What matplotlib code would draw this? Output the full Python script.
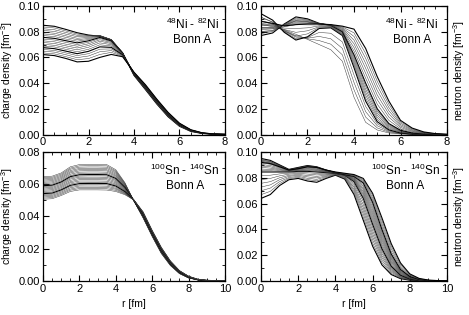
import numpy as np
import matplotlib
matplotlib.use('Agg')
import matplotlib.pyplot as plt
from matplotlib.ticker import MultipleLocator, FormatStrFormatter

plt.rcParams['font.family'] = 'Liberation Sans'
plt.rcParams['font.size'] = 8
plt.rcParams['mathtext.fontset'] = 'custom'
plt.rcParams['mathtext.rm'] = 'Liberation Sans'
plt.rcParams['mathtext.it'] = 'Liberation Sans'

# densities, units 1e-3 fm^-3
# rows = r grid point, columns = isotope
ni_mass = [48, 50, 52, 54, 56, 58, 60, 62, 64, 66, 68, 70, 72, 74, 76, 78, 80, 82]
sn_mass = [100, 102, 104, 106, 108, 110, 112, 114, 116, 118, 120,
           122, 124, 126, 128, 130, 132, 134, 136, 138, 140]

r_ni = [0.0, 0.5, 1.0, 1.5, 2.0, 2.5, 3.0, 3.5, 4.0, 4.5, 5.0, 5.5, 6.0, 6.5, 7.0, 7.5, 8.0]
r_sn = [0.0, 0.5, 1.0, 1.5, 2.0, 2.5, 3.0, 3.5, 4.0, 4.5, 5.0, 5.5, 6.0, 6.5, 7.0, 7.5,
        8.0, 8.5, 9.0, 9.5, 10.0]

ni_charge = [
    [85.0, 83.7, 82.3, 81.0, 79.6, 78.3, 77.0, 75.6, 74.3, 72.9, 71.6, 70.2, 68.9, 67.6, 66.2, 64.9, 63.5, 62.2],
    [84.2, 82.9, 81.5, 80.2, 78.8, 77.5, 76.2, 74.8, 73.5, 72.1, 70.8, 69.4, 68.1, 66.8, 65.4, 64.1, 62.7, 61.4],
    [81.8, 80.6, 79.4, 78.1, 76.8, 75.6, 74.3, 73.0, 71.7, 70.3, 69.0, 67.6, 66.3, 64.9, 63.5, 62.1, 60.6, 59.2],
    [79.2, 78.2, 77.2, 76.1, 74.9, 73.8, 72.6, 71.3, 70.0, 68.7, 67.3, 65.9, 64.4, 62.9, 61.4, 59.8, 58.2, 56.5],
    [77.4, 77.1, 76.7, 76.1, 75.5, 74.7, 73.9, 72.9, 71.8, 70.6, 69.3, 67.9, 66.3, 64.7, 62.9, 61.1, 59.1, 57.0],
    [76.4, 76.8, 77.0, 77.0, 76.9, 76.6, 76.1, 75.5, 74.7, 73.7, 72.6, 71.3, 69.8, 68.2, 66.4, 64.4, 62.3, 60.0],
    [73.6, 73.8, 73.9, 73.9, 73.8, 73.6, 73.3, 72.8, 72.3, 71.6, 70.8, 69.9, 68.9, 67.8, 66.6, 65.3, 63.9, 62.3],
    [63.5, 63.5, 63.6, 63.6, 63.5, 63.5, 63.4, 63.2, 63.1, 62.9, 62.7, 62.5, 62.2, 61.9, 61.6, 61.3, 60.9, 60.5],
    [46.0, 46.1, 46.3, 46.4, 46.6, 46.7, 46.9, 47.0, 47.2, 47.3, 47.5, 47.6, 47.8, 47.9, 48.1, 48.2, 48.4, 48.5],
    [35.0, 35.2, 35.4, 35.7, 35.9, 36.1, 36.3, 36.6, 36.8, 37.0, 37.2, 37.5, 37.7, 37.9, 38.1, 38.4, 38.6, 38.8],
    [23.8, 24.0, 24.2, 24.5, 24.7, 24.9, 25.1, 25.4, 25.6, 25.8, 26.0, 26.3, 26.5, 26.7, 26.9, 27.2, 27.4, 27.6],
    [13.8, 14.0, 14.2, 14.4, 14.6, 14.8, 15.0, 15.2, 15.4, 15.6, 15.8, 16.0, 16.2, 16.4, 16.6, 16.8, 17.0, 17.2],
    [6.4, 6.5, 6.7, 6.8, 7.0, 7.1, 7.2, 7.4, 7.5, 7.7, 7.8, 8.0, 8.1, 8.2, 8.4, 8.5, 8.7, 8.8],
    [2.4, 2.5, 2.6, 2.6, 2.7, 2.8, 2.9, 2.9, 3.0, 3.1, 3.2, 3.2, 3.3, 3.4, 3.5, 3.5, 3.6, 3.7],
    [0.8, 0.8, 0.9, 0.9, 0.9, 0.9, 1.0, 1.0, 1.0, 1.1, 1.1, 1.1, 1.2, 1.2, 1.2, 1.2, 1.3, 1.3],
    [0.2, 0.2, 0.2, 0.2, 0.3, 0.3, 0.3, 0.3, 0.3, 0.3, 0.3, 0.3, 0.3, 0.4, 0.4, 0.4, 0.4, 0.4],
    [0.1, 0.1, 0.1, 0.1, 0.1, 0.1, 0.1, 0.1, 0.1, 0.1, 0.1, 0.1, 0.1, 0.1, 0.1, 0.1, 0.1, 0.1],
]

ni_neutron = [
    [83.0, 85.8, 88.5, 91.3, 94.0, 91.2, 88.3, 85.5, 82.7, 79.8, 77.0, 78.6, 80.1, 81.7, 83.3, 84.9, 86.4, 88.0],
    [83.5, 84.9, 86.3, 87.6, 89.0, 87.3, 85.7, 84.0, 82.3, 80.7, 79.0, 80.1, 81.1, 82.2, 83.3, 84.4, 85.4, 86.5],
    [81.5, 81.0, 80.5, 80.0, 79.5, 80.6, 81.7, 82.8, 83.8, 84.9, 86.0, 85.8, 85.6, 85.4, 85.1, 84.9, 84.7, 84.5],
    [78.0, 76.9, 75.8, 74.6, 73.5, 76.5, 79.5, 82.5, 85.5, 88.5, 91.5, 90.6, 89.8, 88.9, 88.1, 87.2, 86.4, 85.5],
    [74.0, 74.5, 75.0, 75.5, 76.0, 78.3, 80.7, 83.0, 85.3, 87.7, 90.0, 89.4, 88.9, 88.3, 87.7, 87.1, 86.6, 86.0],
    [70.0, 73.1, 76.3, 79.4, 82.5, 83.2, 83.8, 84.5, 85.2, 85.8, 86.5, 86.4, 86.4, 86.3, 86.2, 86.1, 86.1, 86.0],
    [66.0, 70.3, 74.5, 78.8, 83.0, 83.3, 83.7, 84.0, 84.3, 84.7, 85.0, 85.1, 85.1, 85.2, 85.3, 85.4, 85.4, 85.5],
    [57.0, 62.0, 67.0, 72.0, 77.0, 77.5, 78.0, 78.5, 79.0, 79.5, 80.0, 80.6, 81.2, 81.8, 82.5, 83.1, 83.7, 84.3],
    [29.0, 34.8, 40.5, 46.3, 52.0, 53.7, 55.3, 57.0, 58.7, 60.3, 62.0, 64.9, 67.7, 70.6, 73.4, 76.3, 79.1, 82.0],
    [9.5, 13.6, 17.8, 21.9, 26.0, 28.3, 30.7, 33.0, 35.3, 37.7, 40.0, 43.9, 47.7, 51.6, 55.4, 59.3, 63.1, 67.0],
    [3.5, 5.1, 6.8, 8.4, 10.0, 11.7, 13.3, 15.0, 16.7, 18.3, 20.0, 23.6, 27.1, 30.7, 34.3, 37.9, 41.4, 45.0],
    [1.2, 1.8, 2.4, 3.0, 3.6, 4.4, 5.2, 6.1, 6.9, 7.7, 8.5, 11.0, 13.5, 16.0, 18.5, 21.0, 23.5, 26.0],
    [0.4, 0.6, 0.8, 1.0, 1.2, 1.6, 1.9, 2.3, 2.6, 3.0, 3.3, 4.4, 5.5, 6.6, 7.7, 8.8, 9.9, 11.0],
    [0.1, 0.2, 0.2, 0.3, 0.4, 0.5, 0.7, 0.8, 0.9, 1.1, 1.2, 1.7, 2.3, 2.8, 3.4, 3.9, 4.5, 5.0],
    [0.0, 0.0, 0.1, 0.1, 0.1, 0.2, 0.2, 0.3, 0.3, 0.3, 0.4, 0.6, 0.9, 1.1, 1.3, 1.5, 1.8, 2.0],
    [0.0, 0.0, 0.0, 0.0, 0.0, 0.0, 0.0, 0.1, 0.1, 0.1, 0.1, 0.2, 0.3, 0.4, 0.4, 0.5, 0.6, 0.7],
    [0.0, 0.0, 0.0, 0.0, 0.0, 0.0, 0.0, 0.0, 0.0, 0.0, 0.0, 0.0, 0.1, 0.1, 0.1, 0.1, 0.2, 0.2],
]

sn_charge = [
    [64.7, 64.0, 63.3, 62.6, 61.9, 61.2, 60.5, 59.8, 59.1, 58.4, 57.7, 57.0, 56.3, 55.6, 54.9, 54.2, 53.5, 52.8, 52.1, 51.4, 50.7],
    [65.0, 64.3, 63.6, 62.9, 62.2, 61.5, 60.8, 60.1, 59.4, 58.7, 58.0, 57.3, 56.6, 55.9, 55.2, 54.5, 53.8, 53.1, 52.4, 51.7, 51.0],
    [67.0, 66.3, 65.6, 64.9, 64.2, 63.5, 62.8, 62.1, 61.4, 60.7, 60.0, 59.3, 58.6, 57.9, 57.2, 56.5, 55.8, 55.1, 54.4, 53.7, 53.0],
    [70.8, 70.0, 69.3, 68.5, 67.7, 67.0, 66.2, 65.4, 64.7, 63.9, 63.2, 62.4, 61.6, 60.9, 60.1, 59.3, 58.6, 57.8, 57.0, 56.3, 55.5],
    [72.2, 71.4, 70.6, 69.8, 69.1, 68.3, 67.5, 66.7, 65.9, 65.1, 64.4, 63.6, 62.8, 62.0, 61.2, 60.4, 59.6, 58.9, 58.1, 57.3, 56.5],
    [72.3, 71.5, 70.7, 69.9, 69.1, 68.4, 67.6, 66.8, 66.0, 65.2, 64.4, 63.6, 62.8, 62.0, 61.2, 60.5, 59.7, 58.9, 58.1, 57.3, 56.5],
    [72.3, 71.5, 70.7, 69.9, 69.1, 68.4, 67.6, 66.8, 66.0, 65.2, 64.4, 63.6, 62.8, 62.0, 61.2, 60.5, 59.7, 58.9, 58.1, 57.3, 56.5],
    [72.2, 71.4, 70.6, 69.8, 69.0, 68.3, 67.5, 66.7, 65.9, 65.1, 64.3, 63.5, 62.7, 61.9, 61.1, 60.4, 59.6, 58.8, 58.0, 57.2, 56.4],
    [69.0, 68.3, 67.7, 67.0, 66.3, 65.6, 65.0, 64.3, 63.6, 62.9, 62.3, 61.6, 60.9, 60.2, 59.6, 58.9, 58.2, 57.5, 56.9, 56.2, 55.5],
    [61.0, 60.6, 60.3, 59.9, 59.5, 59.1, 58.8, 58.4, 58.0, 57.6, 57.3, 56.9, 56.5, 56.1, 55.8, 55.4, 55.0, 54.6, 54.3, 53.9, 53.5],
    [49.5, 49.5, 49.6, 49.6, 49.6, 49.7, 49.7, 49.7, 49.8, 49.8, 49.9, 49.9, 49.9, 50.0, 50.0, 50.0, 50.1, 50.1, 50.1, 50.2, 50.2],
    [39.0, 39.2, 39.4, 39.6, 39.8, 40.0, 40.2, 40.4, 40.6, 40.8, 41.0, 41.2, 41.4, 41.6, 41.8, 42.0, 42.2, 42.4, 42.6, 42.8, 43.0],
    [27.5, 27.7, 27.9, 28.1, 28.3, 28.5, 28.7, 28.9, 29.1, 29.3, 29.5, 29.7, 29.9, 30.1, 30.3, 30.5, 30.7, 30.9, 31.1, 31.3, 31.5],
    [17.0, 17.2, 17.4, 17.6, 17.8, 18.0, 18.2, 18.4, 18.6, 18.8, 19.0, 19.2, 19.4, 19.6, 19.8, 20.0, 20.2, 20.4, 20.6, 20.8, 21.0],
    [9.5, 9.7, 9.8, 10.0, 10.1, 10.3, 10.4, 10.6, 10.7, 10.9, 11.0, 11.2, 11.3, 11.5, 11.6, 11.8, 11.9, 12.1, 12.2, 12.4, 12.5],
    [4.5, 4.6, 4.7, 4.8, 4.9, 5.0, 5.1, 5.2, 5.3, 5.4, 5.5, 5.6, 5.7, 5.8, 5.9, 6.0, 6.1, 6.2, 6.3, 6.4, 6.5],
    [1.8, 1.9, 1.9, 2.0, 2.0, 2.1, 2.2, 2.2, 2.3, 2.3, 2.4, 2.5, 2.5, 2.6, 2.6, 2.7, 2.8, 2.8, 2.9, 2.9, 3.0],
    [0.6, 0.6, 0.7, 0.7, 0.7, 0.7, 0.8, 0.8, 0.8, 0.8, 0.9, 0.9, 0.9, 0.9, 1.0, 1.0, 1.0, 1.0, 1.0, 1.1, 1.1],
    [0.2, 0.2, 0.2, 0.2, 0.2, 0.2, 0.2, 0.3, 0.3, 0.3, 0.3, 0.3, 0.3, 0.3, 0.4, 0.4, 0.4, 0.4, 0.4, 0.4, 0.4],
    [0.1, 0.1, 0.1, 0.1, 0.1, 0.1, 0.1, 0.1, 0.1, 0.1, 0.1, 0.1, 0.1, 0.1, 0.1, 0.1, 0.1, 0.1, 0.1, 0.1, 0.1],
    [0.0, 0.0, 0.0, 0.0, 0.0, 0.0, 0.0, 0.0, 0.0, 0.0, 0.0, 0.0, 0.0, 0.0, 0.0, 0.0, 0.0, 0.0, 0.0, 0.0, 0.0],
]

sn_neutron = [
    [64.0, 66.9, 69.9, 72.8, 75.7, 78.6, 81.6, 84.5, 85.7, 86.8, 88.0, 89.2, 90.3, 91.5, 92.7, 93.8, 95.0, 94.3, 93.5, 92.8, 92.0],
    [67.0, 69.5, 72.0, 74.5, 77.0, 79.5, 82.0, 84.5, 85.5, 86.5, 87.5, 88.5, 89.5, 90.5, 91.5, 92.5, 93.5, 92.9, 92.3, 91.6, 91.0],
    [74.0, 75.5, 77.0, 78.5, 80.0, 81.5, 83.0, 84.5, 85.1, 85.7, 86.3, 86.9, 87.6, 88.2, 88.8, 89.4, 90.0, 89.6, 89.3, 88.9, 88.5],
    [78.5, 79.4, 80.2, 81.1, 81.9, 82.8, 83.6, 84.5, 84.7, 84.9, 85.2, 85.4, 85.6, 85.8, 86.0, 86.3, 86.5, 86.4, 86.3, 86.1, 86.0],
    [79.5, 80.3, 81.1, 81.9, 82.6, 83.4, 84.2, 85.0, 85.3, 85.7, 86.0, 86.3, 86.7, 87.0, 87.3, 87.7, 88.0, 87.8, 87.5, 87.3, 87.0],
    [77.5, 78.6, 79.6, 80.7, 81.8, 82.9, 83.9, 85.0, 85.5, 86.0, 86.5, 87.0, 87.5, 88.0, 88.5, 89.0, 89.5, 89.3, 89.0, 88.8, 88.5],
    [76.5, 77.6, 78.8, 79.9, 81.1, 82.2, 83.4, 84.5, 84.9, 85.4, 85.8, 86.3, 86.7, 87.2, 87.6, 88.1, 88.5, 88.4, 88.3, 88.1, 88.0],
    [79.5, 80.1, 80.8, 81.4, 82.1, 82.7, 83.4, 84.0, 84.2, 84.4, 84.7, 84.9, 85.1, 85.3, 85.6, 85.8, 86.0, 86.0, 86.0, 86.0, 86.0],
    [82.0, 82.2, 82.4, 82.6, 82.9, 83.1, 83.3, 83.5, 83.6, 83.6, 83.7, 83.7, 83.8, 83.8, 83.9, 83.9, 84.0, 84.1, 84.3, 84.4, 84.5],
    [79.0, 79.4, 79.9, 80.3, 80.7, 81.1, 81.6, 82.0, 82.1, 82.1, 82.2, 82.2, 82.3, 82.3, 82.4, 82.4, 82.5, 82.8, 83.0, 83.3, 83.5],
    [67.0, 68.4, 69.9, 71.3, 72.7, 74.1, 75.6, 77.0, 77.4, 77.9, 78.3, 78.8, 79.2, 79.7, 80.1, 80.6, 81.0, 81.4, 81.8, 82.1, 82.5],
    [47.0, 49.4, 51.9, 54.3, 56.7, 59.1, 61.6, 64.0, 65.3, 66.7, 68.0, 69.3, 70.7, 72.0, 73.3, 74.7, 76.0, 76.9, 77.8, 78.6, 79.5],
    [27.0, 29.4, 31.9, 34.3, 36.7, 39.1, 41.6, 44.0, 45.9, 47.8, 49.7, 51.6, 53.4, 55.3, 57.2, 59.1, 61.0, 62.8, 64.5, 66.3, 68.0],
    [12.5, 14.3, 16.1, 17.9, 19.6, 21.4, 23.2, 25.0, 26.7, 28.3, 30.0, 31.7, 33.3, 35.0, 36.7, 38.3, 40.0, 42.3, 44.5, 46.8, 49.0],
    [5.0, 5.9, 6.9, 7.8, 8.7, 9.6, 10.6, 11.5, 12.6, 13.6, 14.7, 15.7, 16.8, 17.8, 18.9, 19.9, 21.0, 23.0, 25.0, 27.0, 29.0],
    [1.8, 2.2, 2.6, 3.0, 3.3, 3.7, 4.1, 4.5, 5.0, 5.5, 6.0, 6.5, 7.0, 7.5, 8.0, 8.5, 9.0, 10.3, 11.5, 12.8, 14.0],
    [0.6, 0.7, 0.9, 1.0, 1.2, 1.3, 1.5, 1.6, 1.8, 2.0, 2.2, 2.4, 2.7, 2.9, 3.1, 3.3, 3.5, 4.0, 4.5, 5.0, 5.5],
    [0.2, 0.2, 0.3, 0.3, 0.4, 0.4, 0.5, 0.5, 0.6, 0.7, 0.7, 0.8, 0.9, 1.0, 1.0, 1.1, 1.2, 1.4, 1.6, 1.8, 2.0],
    [0.1, 0.1, 0.1, 0.1, 0.2, 0.2, 0.2, 0.2, 0.2, 0.2, 0.3, 0.3, 0.3, 0.3, 0.4, 0.4, 0.4, 0.5, 0.5, 0.6, 0.7],
    [0.0, 0.0, 0.0, 0.0, 0.0, 0.1, 0.1, 0.1, 0.1, 0.1, 0.1, 0.1, 0.1, 0.1, 0.1, 0.1, 0.1, 0.1, 0.2, 0.2, 0.3],
    [0.0, 0.0, 0.0, 0.0, 0.0, 0.0, 0.0, 0.0, 0.0, 0.0, 0.0, 0.0, 0.0, 0.0, 0.0, 0.0, 0.0, 0.0, 0.0, 0.0, 0.1],
]

# isotopes drawn with a heavier line
bold_ni_charge = [48, 62, 74, 82]
bold_ni_neutron = [56, 68, 82]
bold_sn_charge = [116, 130]
bold_sn_neutron = [100, 114, 132, 140]

fig = plt.figure(figsize=(4.69, 3.15), dpi=100)
ax_tl = fig.add_axes([0.0917, 0.573, 0.388, 0.408])
ax_tr = fig.add_axes([0.5565, 0.573, 0.3966, 0.408])
ax_bl = fig.add_axes([0.0917, 0.108, 0.388, 0.4095])
ax_br = fig.add_axes([0.5565, 0.108, 0.3966, 0.4095])

panels = [
    (ax_tl, r_ni, ni_charge, ni_mass, bold_ni_charge, 8, 0.10, r'$^{48}$Ni - $^{82}$Ni', 0.82),
    (ax_tr, r_ni, ni_neutron, ni_mass, bold_ni_neutron, 8, 0.10, r'$^{48}$Ni - $^{82}$Ni', 0.81),
    (ax_bl, r_sn, sn_charge, sn_mass, bold_sn_charge, 10, 0.08, r'$^{100}$Sn - $^{140}$Sn', 0.78),
    (ax_br, r_sn, sn_neutron, sn_mass, bold_sn_neutron, 10, 0.10, r'$^{100}$Sn - $^{140}$Sn', 0.775),
]

for ax, r, dens, mass, bold, xmax, ymax, label, tx in panels:
    lines = ax.plot(r, np.array(dens) * 1e-3, color='#3a3a3a', lw=0.35)
    for ln, a in zip(lines, mass):
        if a in bold:
            ln.set_linewidth(0.8)
            ln.set_color('black')
    ax.set_xlim(0, xmax)
    ax.set_ylim(0, ymax)
    ax.xaxis.set_major_locator(MultipleLocator(2))
    ax.xaxis.set_minor_locator(MultipleLocator(0.5))
    ax.yaxis.set_major_locator(MultipleLocator(0.02))
    ax.yaxis.set_minor_locator(MultipleLocator(0.01))
    ax.yaxis.set_major_formatter(FormatStrFormatter('%.2f'))
    ax.tick_params(which='both', direction='in', top=True, right=True, labelsize=8, pad=2)
    ax.tick_params(which='major', length=4, width=0.8)
    ax.tick_params(which='minor', length=2, width=0.6)
    for s in ax.spines.values():
        s.set_linewidth(0.9)
    ax.text(tx, 0.86, label, transform=ax.transAxes, ha='center', va='center', fontsize=8.5)
    ax.text(tx, 0.735, 'Bonn A', transform=ax.transAxes, ha='center', va='center', fontsize=8.5)

ax_tl.set_ylabel('charge density [fm$^{-3}$]', fontsize=7.5, labelpad=3)
ax_bl.set_ylabel('charge density [fm$^{-3}$]', fontsize=7.5, labelpad=3)
for ax in (ax_tr, ax_br):
    ax.yaxis.set_label_position('right')
    ax.set_ylabel('neutron density [fm$^{-3}$]', fontsize=7.5, labelpad=3)
ax_bl.set_xlabel('r [fm]', fontsize=7.5, labelpad=4)
ax_br.set_xlabel('r [fm]', fontsize=7.5, labelpad=4)

fig.savefig('out.png', dpi=100)
